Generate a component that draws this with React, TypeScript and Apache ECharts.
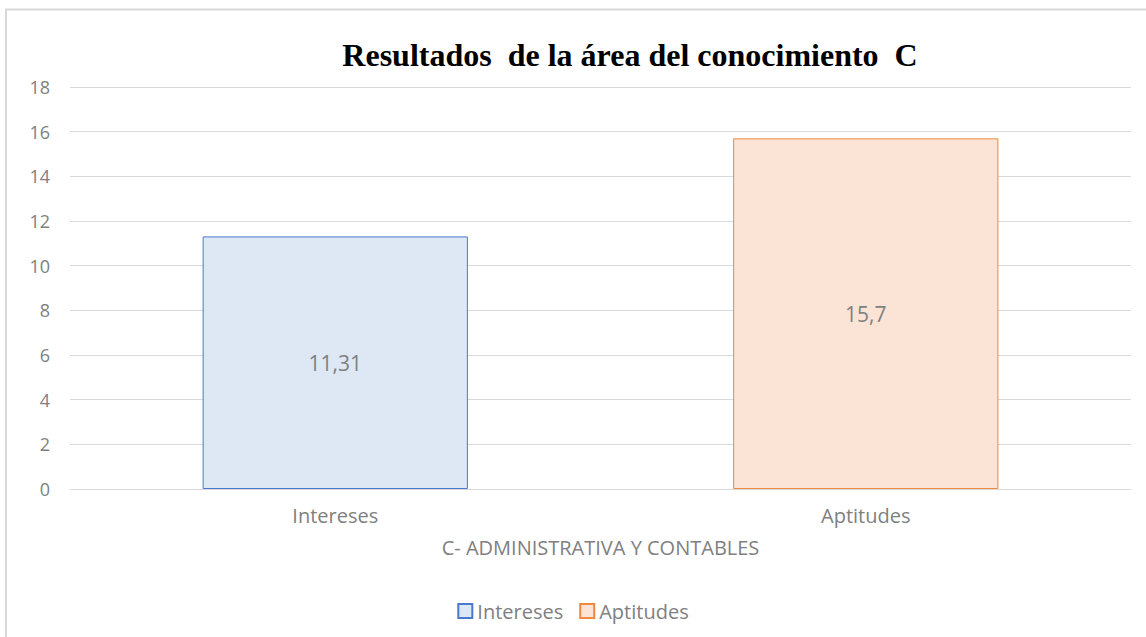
import React, { useEffect, useRef } from "react";
import * as echarts from "echarts";

const categories = ["Intereses", "Aptitudes"];
const seriesNames = ["Intereses", "Aptitudes"];
const interesesValues: (number | string)[] = [11.31, "-"];
const aptitudesValues: (number | string)[] = ["-", 15.7];
const yTicks = { min: 0, max: 18, interval: 2 };

const TEXT_GREY = "#808080";
const FONT = "'Open Sans', 'Noto Sans', sans-serif";

export default function App() {
  const ref = useRef<HTMLDivElement>(null);
  useEffect(() => {
    if (!ref.current) return;
    const chart = echarts.init(ref.current, undefined, { renderer: "svg" });
    const labelCfg = {
      show: true,
      position: "inside",
      color: TEXT_GREY,
      fontSize: 21,
      fontFamily: FONT,
      formatter: (p: any) => String(p.value).replace(".", ","),
    };
    chart.setOption({
      animation: false,
      backgroundColor: "#ffffff",
      title: {
        text: "Resultados  de la área del conocimiento  C",
        left: 625,
        textAlign: "center",
        top: 34,
        textStyle: {
          fontFamily: "'Liberation Serif', 'Times New Roman', serif",
          fontWeight: "bold",
          fontSize: 32,
          color: "#000000",
        },
      },
      graphic: [
        {
          type: "polyline",
          shape: { points: [[6, 637], [6, 9.5], [1146, 9.5]] },
          style: { stroke: "#d9d9d9", lineWidth: 2, fill: "none" },
          silent: true,
        },
      ],
      legend: {
        top: 596,
        left: "center",
        itemWidth: 14,
        itemHeight: 14,
        itemGap: 16,
        icon: "rect",
        textStyle: { color: TEXT_GREY, fontSize: 20, fontFamily: FONT },
        data: seriesNames,
      },
      grid: { left: 70, right: 15, top: 87, bottom: 148 },
      xAxis: {
        type: "category",
        data: categories,
        name: "C- ADMINISTRATIVA Y CONTABLES",
        nameLocation: "middle",
        nameGap: 48,
        nameTextStyle: { color: TEXT_GREY, fontSize: 20, fontFamily: FONT },
        axisLine: { lineStyle: { color: "#d9d9d9", width: 1 } },
        axisTick: { show: false },
        axisLabel: { color: TEXT_GREY, fontSize: 20, fontFamily: FONT, margin: 16 },
      },
      yAxis: {
        type: "value",
        min: yTicks.min,
        max: yTicks.max,
        interval: yTicks.interval,
        axisLine: { show: false },
        axisTick: { show: false },
        axisLabel: { color: TEXT_GREY, fontSize: 18, fontFamily: FONT, margin: 20 },
        splitLine: { lineStyle: { color: "#d9d9d9", width: 1 } },
      },
      series: [
        {
          name: seriesNames[0],
          type: "bar",
          stack: "total",
          barWidth: "50%",
          data: interesesValues,
          itemStyle: { color: "#dde8f4", borderColor: "#4a78cc", borderWidth: 1 },
          label: labelCfg,
        },
        {
          name: seriesNames[1],
          type: "bar",
          stack: "total",
          barWidth: "50%",
          data: aptitudesValues,
          itemStyle: { color: "#fbe4d6", borderColor: "#f0883e", borderWidth: 1 },
          label: labelCfg,
        },
      ],
    });
    return () => chart.dispose();
  }, []);
  return (
    <div
      ref={ref}
      style={{ position: "fixed", left: 0, top: 0, width: 1146, height: 637 }}
    />
  );
}
